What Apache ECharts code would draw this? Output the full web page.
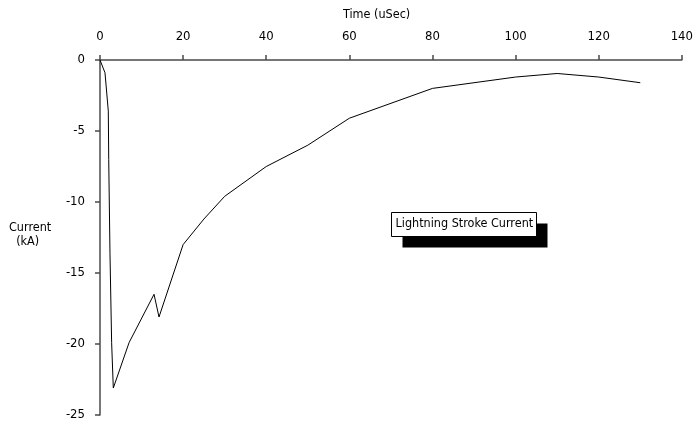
<!DOCTYPE html>
<html>
<head>
<meta charset="utf-8">
<script src="https://cdn.jsdelivr.net/npm/echarts@6/dist/echarts.min.js"></script>
<style>
  html, body { margin: 0; padding: 0; background: #fff; }
  #chart { width: 696px; height: 424px; }
</style>
</head>
<body>
<div id="chart"></div>
<script>
// Stroke current waveform: time in microseconds, current in kA
const timeUs = [0, 1.2, 2.0, 2.1, 2.4, 2.8, 3.2, 7, 13, 14.2, 20, 25, 30, 40, 50, 60, 80, 100, 110, 120, 130];
const currentKA = [0, -0.9, -3.6, -7.0, -13.6, -19.9, -23.1, -19.9, -16.5, -18.1, -13.0, -11.2, -9.6, -7.5, -6.0, -4.1, -2.0, -1.2, -0.95, -1.2, -1.6];
const xTicks = { min: 0, max: 140, step: 20 };
const yTicks = { min: -25, max: 0, step: 5 };

const FONT = "'DejaVu Sans Condensed', 'Liberation Sans Narrow', sans-serif";
const AXIS_COLOR = '#4a4a4a';

const chart = echarts.init(document.getElementById('chart'), null, { renderer: 'canvas' });

chart.setOption({
  animation: false,
  backgroundColor: '#ffffff',
  grid: { left: 100, right: 13, top: 60, bottom: 9, containLabel: false },
  xAxis: {
    type: 'value',
    position: 'top',
    min: xTicks.min, max: xTicks.max, interval: xTicks.step,
    axisLine: { show: true, onZero: false, lineStyle: { color: AXIS_COLOR, width: 1.5 } },
    axisTick: { show: true, inside: false, length: 5, lineStyle: { color: AXIS_COLOR, width: 1.5 } },
    axisLabel: { color: '#000', fontFamily: FONT, fontSize: 13, margin: 17 },
    splitLine: { show: false }
  },
  yAxis: {
    type: 'value',
    min: yTicks.min, max: yTicks.max, interval: yTicks.step,
    axisLine: { show: true, onZero: false, lineStyle: { color: AXIS_COLOR, width: 1.5 } },
    axisTick: { show: true, inside: false, length: 5, lineStyle: { color: AXIS_COLOR, width: 1.5 } },
    axisLabel: { color: '#000', fontFamily: FONT, fontSize: 13, margin: 15 },
    splitLine: { show: false }
  },
  series: [{
    name: 'Lightning Stroke Current',
    type: 'line',
    data: timeUs.map((t, i) => [t, currentKA[i]]),
    showSymbol: false,
    smooth: false,
    lineStyle: { color: '#000', width: 1 },
    itemStyle: { color: '#000' }
  }],
  graphic: [
    {
      type: 'text',
      left: 343, top: 8,
      style: { text: 'Time (uSec)', fill: '#000', font: '12.5px ' + FONT }
    },
    {
      type: 'text',
      left: 9, top: 221,
      style: { text: 'Current\n  (kA)', fill: '#000', font: '12.5px ' + FONT, lineHeight: 14 }
    },
    {
      type: 'group',
      left: 391, top: 212,
      children: [
        { type: 'rect', shape: { x: 11, y: 11, width: 145, height: 24 }, style: { fill: '#000' } },
        { type: 'rect', shape: { x: 0, y: 0, width: 145, height: 24 }, style: { fill: '#fff', stroke: '#000', lineWidth: 1 } },
        { type: 'text', style: { x: 4, y: 5, text: 'Lightning Stroke Current', fill: '#000', font: '12.5px ' + FONT } }
      ]
    }
  ]
});
</script>
</body>
</html>
